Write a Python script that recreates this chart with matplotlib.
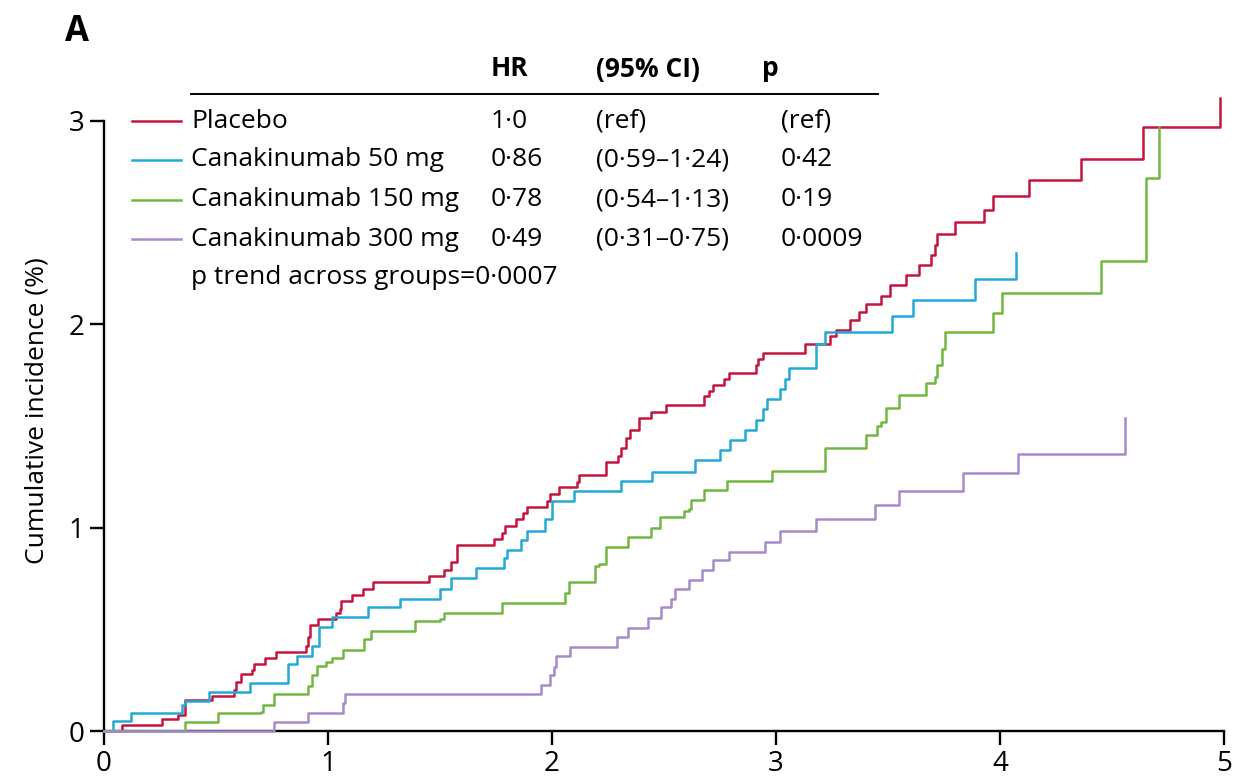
import matplotlib
matplotlib.use("Agg")
import matplotlib.pyplot as plt
from matplotlib.lines import Line2D

plt.rcParams['font.family'] = ['Open Sans', 'DejaVu Sans']

W, H = 1235, 778

# cumulative incidence (%) step data
placebo_t = [0, 0.08, 0.26, 0.33, 0.36, 0.48, 0.58, 0.59, 0.61, 0.66, 0.67, 0.72, 0.77,
             0.90, 0.91, 0.92, 0.955, 1.036, 1.054, 1.06, 1.106, 1.157, 1.20, 1.45, 1.52,
             1.55, 1.575, 1.74, 1.775, 1.79, 1.84, 1.87, 1.89, 1.976, 1.99, 2.03, 2.11,
             2.12, 2.24, 2.295, 2.31, 2.33, 2.35, 2.39, 2.44, 2.51, 2.68, 2.70, 2.72,
             2.77, 2.79, 2.91, 2.92, 2.94, 3.13, 3.24, 3.27, 3.33, 3.37, 3.40, 3.47,
             3.51, 3.58, 3.64, 3.69, 3.71, 3.72, 3.80, 3.93, 3.97, 4.13, 4.36, 4.64, 4.98]
placebo_v = [0, 0.03, 0.06, 0.08, 0.15, 0.17, 0.20, 0.24, 0.28, 0.30, 0.33, 0.36, 0.39,
             0.42, 0.46, 0.52, 0.55, 0.58, 0.60, 0.64, 0.67, 0.70, 0.73, 0.76, 0.79,
             0.83, 0.915, 0.945, 0.975, 1.005, 1.04, 1.07, 1.10, 1.13, 1.165, 1.20, 1.226,
             1.26, 1.32, 1.35, 1.39, 1.44, 1.48, 1.54, 1.57, 1.60, 1.645, 1.67, 1.70,
             1.73, 1.76, 1.80, 1.83, 1.86, 1.90, 1.94, 1.97, 2.02, 2.06, 2.10, 2.14,
             2.19, 2.24, 2.29, 2.34, 2.39, 2.44, 2.50, 2.56, 2.63, 2.71, 2.81, 2.97, 3.11]

c50_t = [0, 0.04, 0.12, 0.35, 0.36, 0.47, 0.65, 0.82, 0.86, 0.93, 0.96, 1.02, 1.18, 1.32,
         1.50, 1.55, 1.66, 1.785, 1.80, 1.86, 1.89, 1.97, 2.00, 2.10, 2.31, 2.445, 2.64,
         2.75, 2.795, 2.86, 2.91, 2.94, 2.96, 3.02, 3.04, 3.06, 3.18, 3.22, 3.52, 3.61,
         3.89, 4.07]
c50_v = [0, 0.05, 0.09, 0.13, 0.145, 0.19, 0.235, 0.33, 0.37, 0.42, 0.51, 0.56, 0.61, 0.65,
         0.70, 0.75, 0.80, 0.85, 0.89, 0.94, 0.985, 1.04, 1.13, 1.18, 1.23, 1.275, 1.33,
         1.38, 1.43, 1.48, 1.53, 1.58, 1.63, 1.68, 1.73, 1.785, 1.90, 1.96, 2.04, 2.12,
         2.22, 2.35]

c150_t = [0, 0.36, 0.51, 0.70, 0.71, 0.76, 0.91, 0.93, 0.95, 0.99, 1.02, 1.065, 1.16, 1.19,
          1.39, 1.50, 1.52, 1.775, 2.06, 2.075, 2.19, 2.21, 2.24, 2.34, 2.44, 2.48, 2.59,
          2.61, 2.62, 2.68, 2.78, 2.98, 3.22, 3.40, 3.45, 3.47, 3.49, 3.55, 3.67, 3.71,
          3.72, 3.74, 3.755, 3.97, 4.01, 4.45, 4.65, 4.71]
c150_v = [0, 0.045, 0.09, 0.095, 0.13, 0.18, 0.22, 0.275, 0.32, 0.34, 0.36, 0.40, 0.45, 0.49,
          0.54, 0.55, 0.58, 0.63, 0.68, 0.73, 0.81, 0.82, 0.905, 0.955, 1.0, 1.05, 1.08,
          1.09, 1.135, 1.185, 1.23, 1.28, 1.39, 1.455, 1.50, 1.52, 1.585, 1.65, 1.71, 1.74,
          1.80, 1.875, 1.96, 2.055, 2.15, 2.31, 2.72, 2.97]

c300_t = [0, 0.76, 0.91, 1.065, 1.075, 1.95, 1.99, 2.01, 2.02, 2.08, 2.29, 2.34, 2.43, 2.485,
          2.53, 2.55, 2.61, 2.67, 2.72, 2.79, 2.95, 3.02, 3.18, 3.44, 3.55, 3.835, 4.08, 4.56]
c300_v = [0, 0.045, 0.09, 0.14, 0.18, 0.226, 0.275, 0.316, 0.37, 0.415, 0.46, 0.505, 0.555,
          0.61, 0.65, 0.70, 0.74, 0.79, 0.84, 0.88, 0.93, 0.985, 1.04, 1.11, 1.18, 1.27,
          1.36, 1.54]

groups = ['Placebo', 'Canakinumab 50 mg', 'Canakinumab 150 mg', 'Canakinumab 300 mg']
colors = ['#c4153f', '#22a9d5', '#72b840', '#a68acb']
hr = ['1·0', '0·86', '0·78', '0·49']
ci = ['(ref)', '(0·59–1·24)', '(0·54–1·13)', '(0·31–0·75)']
pval = ['(ref)', '0·42', '0·19', '0·0009']
p_trend = 'p trend across groups=0·0007'

x_ticks = [0, 1, 2, 3, 4, 5]
y_ticks = [0, 1, 2, 3]

FS = 19


def fx(px):
    return px / W


def fy(py):
    return 1 - py / H


fig = plt.figure(figsize=(W / 100, H / 100), dpi=100)
ax = fig.add_axes([fx(104), fy(731), fx(1224) - fx(104), fy(90) - fy(731)])

series = [(placebo_t, placebo_v), (c50_t, c50_v), (c150_t, c150_v), (c300_t, c300_v)]
for (t, v), col in zip(series, colors):
    ax.step(t, v, where='post', color=col, lw=1.8, clip_on=False, zorder=3)

ax.set_xlim(0, 5)
ax.set_ylim(0, 3.15)
ax.set_xticks(x_ticks)
ax.set_yticks(y_ticks)
ax.spines['top'].set_visible(False)
ax.spines['right'].set_visible(False)
ax.spines['left'].set_bounds(0, 3)
for s in ['left', 'bottom']:
    ax.spines[s].set_linewidth(1.7)
ax.tick_params(direction='out', length=10, width=1.7, labelsize=20, pad=4)
ax.set_ylabel('Cumulative incidence (%)', fontsize=FS, labelpad=14)

# panel letter
fig.text(fx(65), fy(32), 'A', fontsize=25, fontweight='bold', va='center', ha='left')

# table header
hdr_y = fy(69)
fig.text(fx(491), hdr_y, 'HR', fontsize=FS, fontweight='bold', va='center')
fig.text(fx(596), hdr_y, '(95% CI)', fontsize=FS, fontweight='bold', va='center')
fig.text(fx(762), hdr_y, 'p', fontsize=FS, fontweight='bold', va='center')
fig.add_artist(Line2D([fx(191), fx(878)], [fy(94), fy(94)], color='black', lw=1.4,
                      transform=fig.transFigure))

row_y = [121, 160, 200, 239]
for i, g in enumerate(groups):
    y = fy(row_y[i])
    fig.add_artist(Line2D([fx(132), fx(181)], [y, y], color=colors[i], lw=1.8,
                          transform=fig.transFigure))
    fig.text(fx(191), y, g, fontsize=FS, va='center')
    fig.text(fx(491), y, hr[i], fontsize=FS, va='center')
    fig.text(fx(596), y, ci[i], fontsize=FS, va='center')
    fig.text(fx(781), y, pval[i], fontsize=FS, va='center')
fig.text(fx(191), fy(278), p_trend, fontsize=FS, va='center')

fig.savefig('out.png', dpi=100)
